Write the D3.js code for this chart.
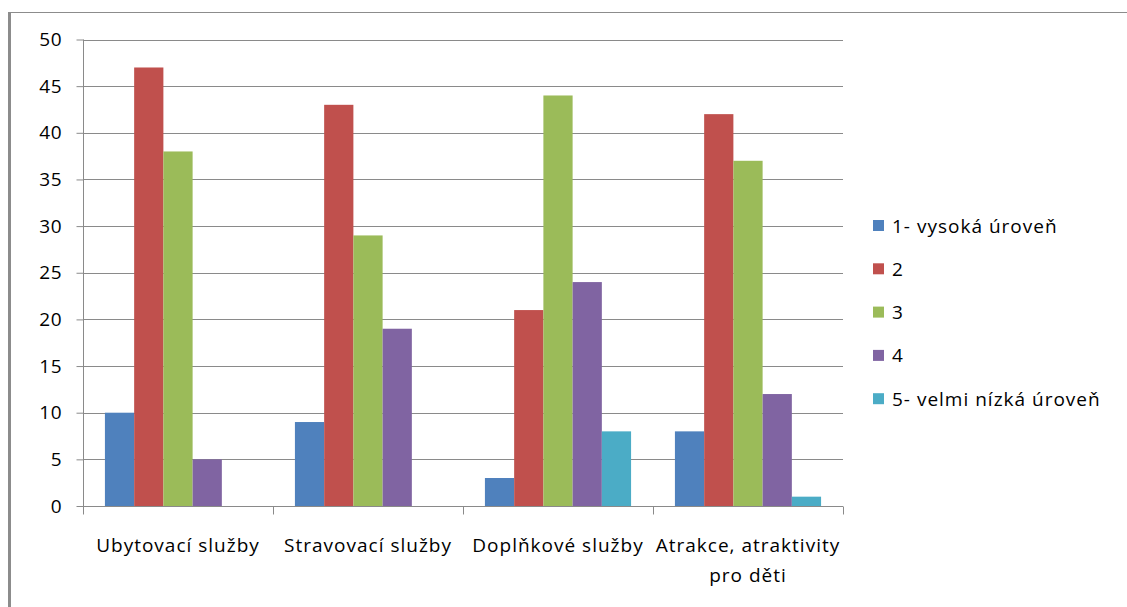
<!DOCTYPE html>
<html>
<head>
<meta charset="utf-8">
<script src="https://cdn.jsdelivr.net/npm/d3@7"></script>
<style>
  html, body { margin: 0; padding: 0; background: #fff; }
  svg { display: block; }
  text { font-family: "Open Sans", "Liberation Sans", sans-serif; fill: #000; }
</style>
</head>
<body>
<svg id="chart" width="1127" height="607"></svg>
<script>
// Categories (x axis) and rating levels (series)
const categories = ["Ubytovací služby", "Stravovací služby", "Doplňkové služby", "Atrakce, atraktivity pro děti"];
const categoryLines = [["Ubytovací služby"], ["Stravovací služby"], ["Doplňkové služby"], ["Atrakce, atraktivity", "pro děti"]];
const seriesNames = ["1- vysoká úroveň", "2", "3", "4", "5- velmi nízká úroveň"];
const seriesColors = ["#4F81BD", "#C0504D", "#9BBB59", "#8064A2", "#4BACC6"];

// Counts per level, in category order
const level1 = [10, 9, 3, 8];
const level2 = [47, 43, 21, 42];
const level3 = [38, 29, 44, 37];
const level4 = [5, 19, 24, 12];
const level5 = [0, 0, 8, 1];
const seriesValues = [level1, level2, level3, level4, level5];

const yTicks = [0, 5, 10, 15, 20, 25, 30, 35, 40, 45, 50];

const FONT_SIZE = 19;
const LETTER_SP = 1;

const svg = d3.select("#chart");

// Outer frame (top and left edges)
svg.append("line").attr("x1", 8).attr("x2", 1127).attr("y1", 12.5).attr("y2", 12.5)
  .attr("stroke", "#8c8c8c").attr("stroke-width", 1.2);
svg.append("line").attr("x1", 9.5).attr("x2", 9.5).attr("y1", 12).attr("y2", 607)
  .attr("stroke", "#8c8c8c").attr("stroke-width", 3);

const plot = { left: 83, right: 843, top: 39.5, bottom: 506 };

const x0 = d3.scaleBand().domain(d3.range(categories.length))
  .range([plot.left, plot.right]).paddingInner(0).paddingOuter(0);
// gap between groups = 1.5 bar widths (split on both sides)
const groupPad = 0.75 / 6.5;
const x1 = d3.scaleBand().domain(d3.range(seriesNames.length))
  .range([x0.bandwidth() * groupPad, x0.bandwidth() * (1 - groupPad)]).padding(0);
const y = d3.scaleLinear().domain([0, 50]).range([plot.bottom, plot.top]);

// Horizontal gridlines
svg.append("g").selectAll("line").data(yTicks.filter(d => d > 0)).join("line")
  .attr("x1", plot.left).attr("x2", plot.right)
  .attr("y1", d => Math.round(y(d)) + 0.5).attr("y2", d => Math.round(y(d)) + 0.5)
  .attr("stroke", "#8a8a8a").attr("stroke-width", 1);

// Bars
const groups = svg.append("g").selectAll("g").data(d3.range(categories.length)).join("g")
  .attr("transform", i => `translate(${x0(i)},0)`);
groups.selectAll("rect")
  .data(i => seriesValues.map((vals, s) => ({ s, v: vals[i] })))
  .join("rect")
  .attr("x", d => x1(d.s))
  .attr("width", x1.bandwidth())
  .attr("y", d => y(d.v))
  .attr("height", d => y(0) - y(d.v))
  .attr("fill", d => seriesColors[d.s]);

// Y axis
const yAxis = d3.axisLeft(y).tickValues(yTicks).tickSize(7).tickPadding(14);
const gy = svg.append("g").attr("transform", `translate(${plot.left + 0.5},0)`).call(yAxis);
gy.select(".domain").attr("stroke", "#8a8a8a").attr("d", `M0,${plot.top}V${plot.bottom}`);
gy.selectAll(".tick line").attr("stroke", "#8a8a8a");
gy.selectAll(".tick text").attr("font-size", FONT_SIZE).attr("letter-spacing", 0.8)
  .attr("font-family", "Open Sans, sans-serif").attr("fill", "#000");

// X axis
const gx = svg.append("g").attr("transform", `translate(0,${Math.round(plot.bottom) + 0.5})`);
gx.append("line").attr("x1", plot.left).attr("x2", plot.right).attr("stroke", "#8a8a8a");
gx.selectAll(".xt").data(d3.range(categories.length + 1)).join("line")
  .attr("class", "xt")
  .attr("x1", i => Math.round(plot.left + i * x0.bandwidth()) + 0.5)
  .attr("x2", i => Math.round(plot.left + i * x0.bandwidth()) + 0.5)
  .attr("y1", 0).attr("y2", 8).attr("stroke", "#8a8a8a");

// Category labels
const labels = svg.append("g").selectAll("text").data(d3.range(categories.length)).join("text")
  .attr("text-anchor", "middle")
  .attr("font-size", FONT_SIZE)
  .attr("letter-spacing", LETTER_SP)
  .attr("x", i => x0(i) + x0.bandwidth() / 2)
  .attr("y", 552);
labels.selectAll("tspan").data(i => categoryLines[i]).join("tspan")
  .attr("x", function () { return d3.select(this.parentNode).attr("x"); })
  .attr("dy", (d, k) => k === 0 ? 0 : 29.5)
  .text(d => d);

// Legend
const legend = svg.append("g").selectAll("g").data(seriesNames).join("g")
  .attr("transform", (d, i) => `translate(873,${226 + i * 43.3})`);
legend.append("rect").attr("x", 0).attr("y", -6).attr("width", 11).attr("height", 11)
  .attr("fill", (d, i) => seriesColors[i]);
legend.append("text").attr("x", 19).attr("y", 6.5).attr("font-size", FONT_SIZE)
  .attr("letter-spacing", LETTER_SP).text(d => d);
</script>
</body>
</html>
